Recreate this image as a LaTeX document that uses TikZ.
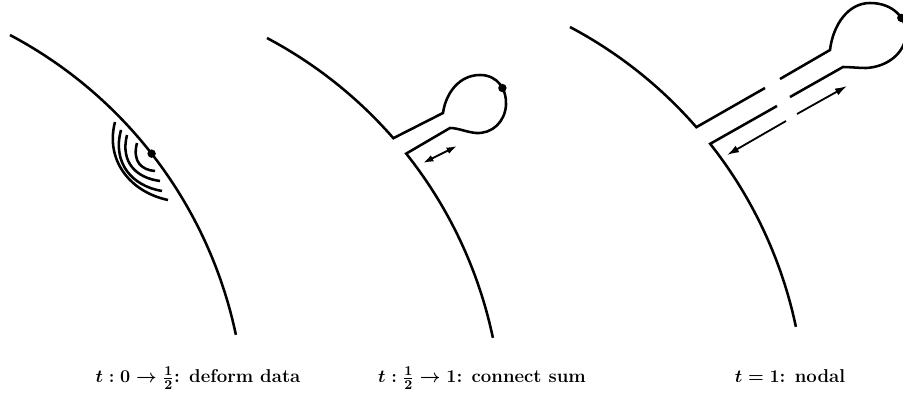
\documentclass[tikz,border=0pt]{standalone}
\usetikzlibrary{arrows.meta}
\begin{document}
\begin{tikzpicture}[x=0.667pt,y=0.667pt,
  curve/.style={line width=1.7pt},
  arr/.style={line width=1.2pt},
  tip/.style={-{Latex[length=8pt,width=5pt]}},
  dbltip/.style={{Latex[length=7pt,width=4.6pt]}-{Latex[length=7pt,width=4.6pt]}},
  lbl/.style={anchor=base, inner sep=0pt, font=\fontsize{12.4}{14}\selectfont\bfseries\boldmath}]
\useasboundingbox (0,0) rectangle (903,-397);

% ---------- panel 1 ----------
\coordinate (c1) at (-197,-426);
\draw[curve] ([shift={(c1)}]62.1:442.4) arc[start angle=62.1,end angle=11.9,radius=442.4];
\coordinate (d1) at ([shift={(c1)}]38:442.4);
\draw[curve] (115,-122) .. controls (105,-160) and (130,-192) .. (168,-200);
\draw[curve] (121,-130) .. controls (112,-163) and (132,-186) .. (162,-191);
\draw[curve] (127,-135) .. controls (120,-163) and (137,-178) .. (160,-181);
\draw[curve] (137,-143) .. controls (132,-162) and (142,-170) .. (155,-171);
\fill (d1) circle[radius=4.2];

% ---------- panel 2 ----------
\coordinate (c2) at (60,-429);
\coordinate (n2a) at (443,-113);
\coordinate (n2b) at (450,-128);
\draw[curve] ([shift={(c2)}]62.1:442.4) arc[start angle=62.1,end angle=41.1,radius=442.4]
  -- (n2a) .. controls (446,-92) and (460,-75) .. (480,-75)
  .. controls (498,-75) and (507,-90) .. (506,-105)
  .. controls (505,-122) and (492,-134) .. (476,-133)
  .. controls (466,-132) and (458,-128) .. (n2b)
  -- ([shift={(c2)}]38.5:442.4) arc[start angle=38.5,end angle=11.9,radius=442.4];
\coordinate (d2) at (502.4,-88);
\fill (d2) circle[radius=4.2];
\coordinate (a2s) at (423,-163);
\coordinate (a2e) at (457,-146);
\draw[arr,dbltip] (a2s) -- (a2e);

% ---------- panel 3 ----------
\coordinate (c3) at (363,-418);
\coordinate (u3a) at (765,-88);
\coordinate (u3b) at (780,-79);
\coordinate (n3a) at (830,-50);
\coordinate (n3b) at (843,-67);
\coordinate (l3a) at (790,-97);
\coordinate (l3b) at (777,-106);
\draw[curve] ([shift={(c3)}]62.1:442.4) arc[start angle=62.1,end angle=41.1,radius=442.4] -- (u3a);
\draw[curve] (u3b) -- (n3a) .. controls (833,-25) and (848,-3) .. (870,-3)
  .. controls (893,-3) and (906,-18) .. (906,-33)
  .. controls (906,-52) and (888,-67) .. (866,-68)
  .. controls (858,-68) and (850,-67) .. (n3b) -- (l3a);
\draw[curve] (l3b) -- ([shift={(c3)}]38.3:442.4) arc[start angle=38.3,end angle=11.9,radius=442.4];
\coordinate (d3) at (901.3,-17.9);
\fill (d3) circle[radius=4.2];
\coordinate (a3a) at (786,-121);
\coordinate (a3b) at (727,-155);
\coordinate (a3c) at (797,-114);
\coordinate (a3d) at (847,-86);
\draw[arr,tip] (a3a) -- (a3b);
\draw[arr,tip] (a3c) -- (a3d);

% ---------- labels ----------
\node[lbl] (L1) at (198,-383) {$t:0\to\frac{1}{2}$: deform data};
\node[lbl] (L2) at (482,-383) {$t:\frac{1}{2}\to1$: connect sum};
\node[lbl] (L3) at (790,-383) {$t=1$: nodal};
\end{tikzpicture}
\end{document}
